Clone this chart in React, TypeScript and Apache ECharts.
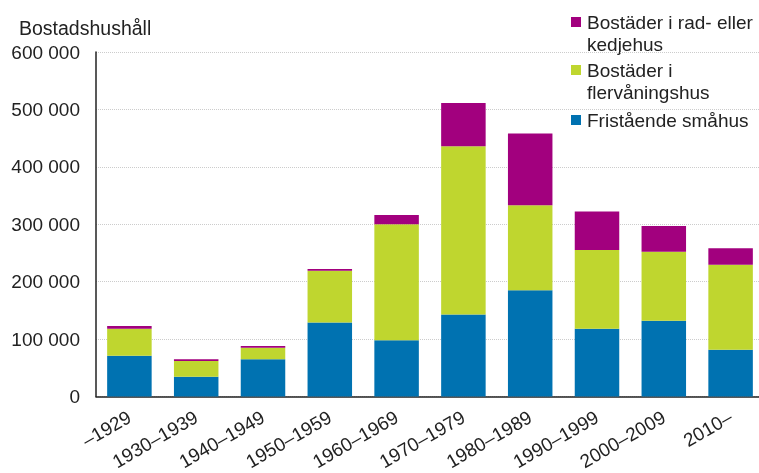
import React, { useEffect, useRef } from "react";
import * as echarts from "echarts";

const categories = ["–1929", "1930–1939", "1940–1949", "1950–1959", "1960–1969", "1970–1979", "1980–1989", "1990–1999", "2000–2009", "2010–"];
const seriesNames = ["Fristående småhus", "Bostäder i flervåningshus", "Bostäder i rad- eller kedjehus"];
const friståendeSmåhus = [71000, 34500, 65000, 129000, 98000, 143000, 185000, 118000, 132000, 81500];
const flervåningshus = [47000, 27500, 20000, 90000, 202000, 293000, 148000, 137000, 120000, 148000];
const radEllerKedjehus = [5000, 3000, 3000, 3000, 16000, 75000, 125000, 67000, 45000, 28500];
const legendLabels = ["Bostäder i rad- eller\nkedjehus", "Bostäder i\nflervåningshus", "Fristående småhus"];
const yAxisTitle = "Bostadshushåll";

const colors = ["#0072B1", "#BFD62F", "#A2007E"];
const FONT = "'Liberation Sans', Arial, sans-serif";

export default function App() {
  const ref = useRef<HTMLDivElement>(null);
  useEffect(() => {
    if (!ref.current) return;
    const chart = echarts.init(ref.current, null, { renderer: "svg" });
    const values = [friståendeSmåhus, flervåningshus, radEllerKedjehus];
    const legendY = [22, 70, 120];
    const legendColors = [colors[2], colors[1], colors[0]];
    chart.setOption({
      animation: false,
      textStyle: { fontFamily: FONT },
      title: {
        text: yAxisTitle,
        left: 14,
        top: 13,
        textStyle: { fontSize: 19.5, fontWeight: "normal", color: "#222", fontFamily: FONT },
      },
      grid: { left: 96, top: 52, bottom: 76.5, right: -5, containLabel: false, outerBoundsMode: "none" },
      xAxis: {
        type: "category",
        data: categories,
        axisLine: { lineStyle: { color: "#222", width: 1.5 } },
        axisTick: { show: false },
        axisLabel: { rotate: 30, fontSize: 19, color: "#222", margin: 19, interval: 0, fontFamily: FONT },
      },
      yAxis: {
        type: "value",
        min: 0,
        max: 600000,
        interval: 100000,
        axisLine: { show: true, lineStyle: { color: "#222", width: 1.5 } },
        axisTick: { show: false },
        splitLine: { lineStyle: { color: "#cccccc", type: "dotted", width: 1 } },
        axisLabel: {
          fontSize: 19,
          color: "#222",
          margin: 16,
          fontFamily: FONT,
          formatter: (v: number) => String(v).replace(/\B(?=(\d{3})+(?!\d))/g, " "),
        },
      },
      series: seriesNames.map((name, i) => ({
        name,
        type: "bar",
        stack: "total",
        data: values[i],
        barWidth: 44.5,
        itemStyle: { color: colors[i] },
      })),
      graphic: legendLabels.flatMap((label, i) => [
        {
          type: "rect",
          shape: { x: 571, y: legendY[i] - 5, width: 10, height: 10 },
          style: { fill: legendColors[i] },
        },
        {
          type: "text",
          x: 587,
          y: legendY[i] - 11,
          style: {
            text: label,
            fontSize: 19,
            lineHeight: 22,
            fill: "#222",
            fontFamily: FONT,
            textVerticalAlign: "top",
          },
        },
      ]),
    });
    return () => chart.dispose();
  }, []);
  return (
    <div
      ref={ref}
      style={{ position: "fixed", left: 0, top: 0, width: 759, height: 473 }}
    />
  );
}
